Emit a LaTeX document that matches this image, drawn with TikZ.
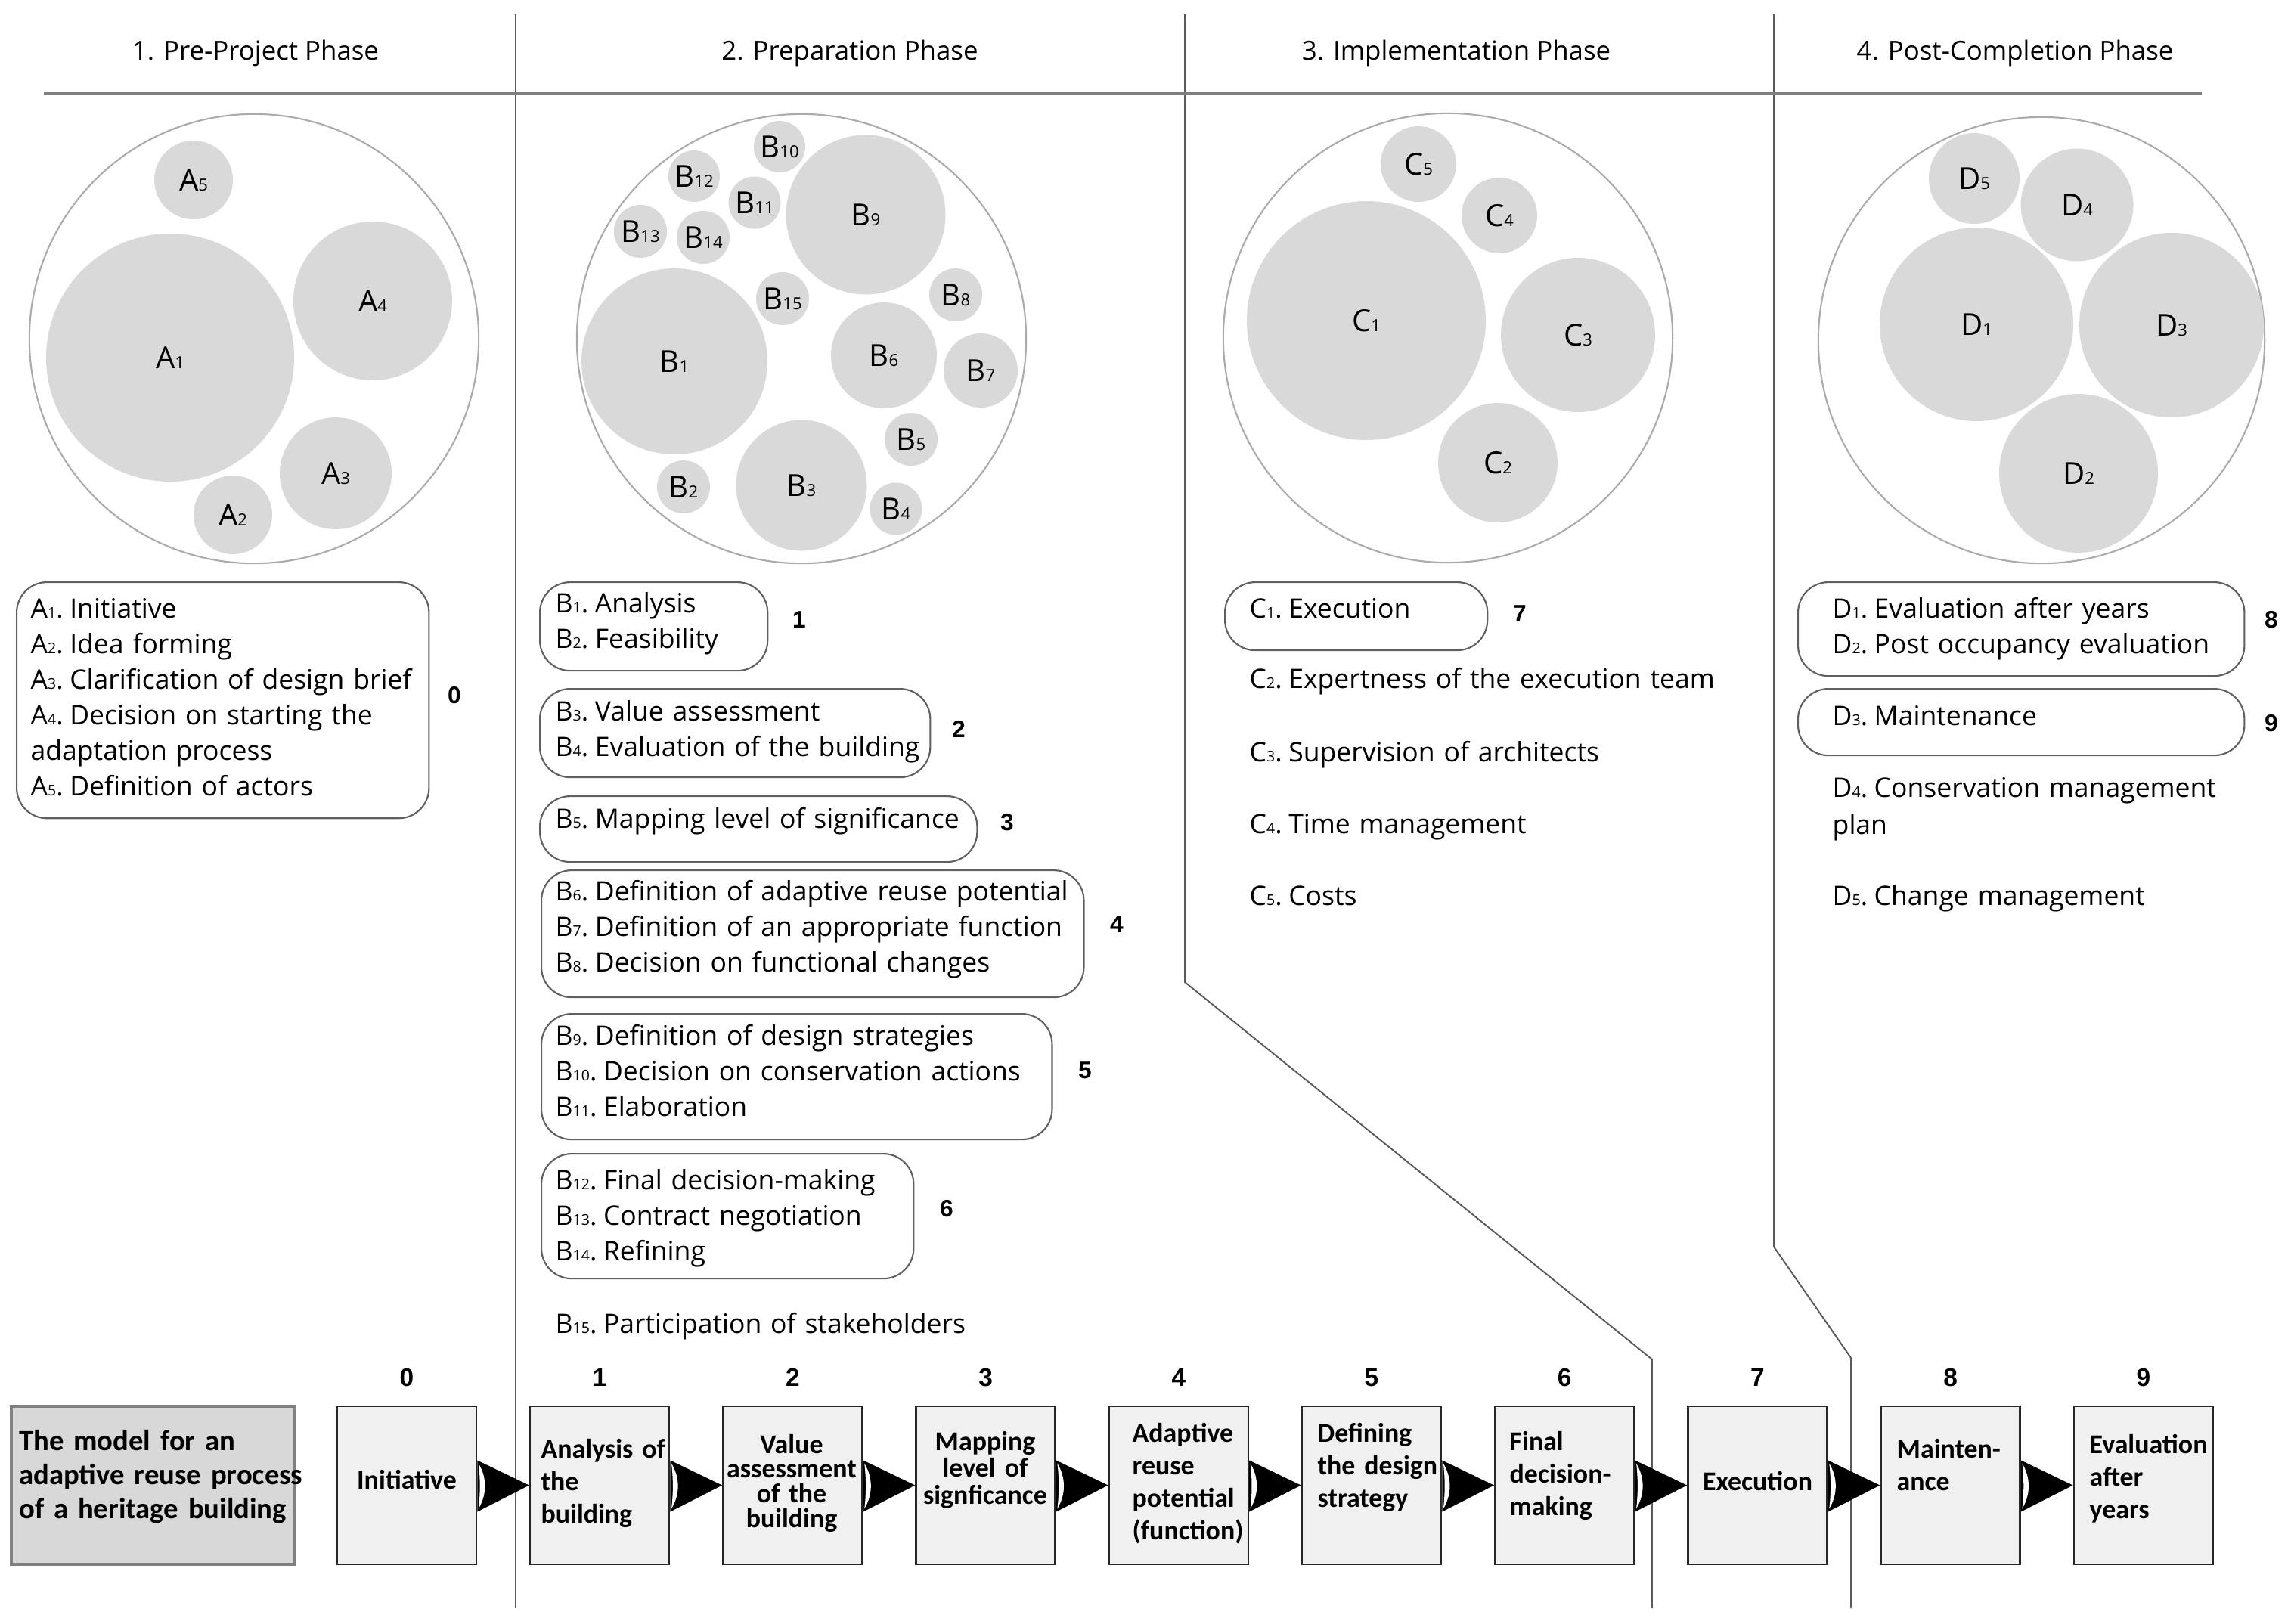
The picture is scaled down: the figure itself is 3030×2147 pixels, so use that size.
\documentclass[tikz,border=0pt]{standalone}
\usepackage{fontspec}
\setmainfont{Open Sans}
\newfontfamily\calfont{Carlito}
\newfontfamily\numfont{Liberation Sans}
\usetikzlibrary{calc}
\definecolor{cgray}{HTML}{D9D9D9}
\definecolor{boxgray}{HTML}{606060}
\definecolor{linegray}{HTML}{5A5A5A}
\definecolor{ringgray}{HTML}{ABABAB}
\definecolor{boxfill}{HTML}{F0F0F0}
\definecolor{darkfill}{HTML}{D8D8D8}
\definecolor{headgray}{HTML}{808080}
\newcommand\ix[1]{\scalebox{0.55}{#1}}
\newcommand\lb[2]{#1\ix{#2}.\hspace{0.24em}}
\tikzset{
  outerc/.style={circle, draw=ringgray, line width=0.6pt, inner sep=0pt},
  innerc/.style={circle, fill=cgray, inner sep=0pt, font=\fontsize{11.4}{13}\selectfont},
  listbox/.style={draw=boxgray, line width=0.6pt, rounded corners=0.4cm, anchor=north west, inner sep=0pt},
  listtxt/.style={anchor=base west, inner sep=0pt, text width=8cm, align=left, font=\fontsize{10.1}{13.4}\selectfont},
  listnum/.style={inner sep=0pt, font=\numfont\bfseries\fontsize{9}{10}\selectfont},
  stepbox/.style={draw=black!85, fill=boxfill, line width=0.7pt, minimum width=1.84cm, minimum height=2.09cm, inner sep=0pt},
  steptxt/.style={inner sep=0pt, text width=1.84cm, font=\calfont\bfseries\fontsize{10.2}{12.3}\selectfont},
  stepnum/.style={inner sep=0pt, font=\numfont\bfseries\fontsize{9.5}{10}\selectfont},
  phasetitle/.style={anchor=base, inner sep=0pt, font=\fontsize{9.9}{12}\selectfont},
  phaseline/.style={draw=linegray, line width=0.55pt},
  headline/.style={draw=headgray, line width=1.1pt},
}
\begin{document}
\begin{tikzpicture}[x=0.01cm,y=-0.01cm]
\useasboundingbox (0,0) rectangle (3030,2147);

% phase separators
\draw[phaseline] (682,19) -- (682,2127);
\draw[phaseline] (1567,19) -- (1567,1299) -- (2185,1798) -- (2185,2127);
\draw[phaseline] (2346,19) -- (2346,1649) -- (2448,1796) -- (2448,2127);
\draw[headline] (58,124) -- (2912,124);

% titles
\node[phasetitle] (h1) at (338,79) {1. Pre-Project Phase};
\node[phasetitle] (h2) at (1124,79) {2. Preparation Phase};
\node[phasetitle] (h3) at (1926,79) {3. Implementation Phase};
\node[phasetitle] (h4) at (2665,79) {4. Post-Completion Phase};

% outer circles
\node[outerc, minimum size=5.94cm] (OA) at (336,448) {};
\node[outerc, minimum size=5.94cm] (OB) at (1060,448) {};
\node[outerc, minimum size=5.94cm] (OC) at (1915,447) {};
\node[outerc, minimum size=5.90cm] (OD) at (2700,450) {};

% inner circles
\foreach \l/\k/\x/\y/\r in {
  A/5/256/238/52, A/1/225/473/164, A/4/493/398/105, A/3/444/626/74, A/2/308/681/52,
  B/10/1031/194/34, B/12/918/233/34, B/11/998/268/34.5, B/13/847/306/35, B/14/930/314/35,
  B/9/1145/284/105.5, B/15/1035/395/35, B/1/892/478/123, B/8/1264/390/35, B/6/1169/470/70,
  B/7/1297/490/49, B/5/1205/581/35, B/2/904/644/35, B/3/1060/642/86.5, B/4/1185/673/34.5,
  C/5/1876/217/50, C/4/1983/285/50, C/1/1807/424/158, C/3/2087/443/102, C/2/1981/612/79,
  D/5/2611/236/60, D/4/2747/271/74.5, D/1/2614/429/128, D/3/2872/430/122, D/2/2749/626/105}
  \node[innerc, minimum size=2*\r*0.01cm] (\l\k) at (\x,\y) {\l\ix{\k}};

% list boxes
\node[listbox, minimum width=5.45cm, minimum height=3.12cm] (bA) at (21,769) {};
\node[listtxt] (tA) at (40,817) {\lb{A}{1}Initiative\\\lb{A}{2}Idea forming\\\lb{A}{3}Clarification of design brief\\\lb{A}{4}Decision on starting the\\adaptation process\\\lb{A}{5}Definition of actors};
\node[listnum] (nA) at (601,920) {0};

\node[listbox, minimum width=3.01cm, minimum height=1.17cm] (bB1) at (713,769) {};
\node[listtxt] (tB1) at (734,810) {\lb{B}{1}Analysis\\\lb{B}{2}Feasibility};
\node[listnum] (nB1) at (1057,820) {1};

\node[listbox, minimum width=5.16cm, minimum height=1.17cm] (bB3) at (713,910) {};
\node[listtxt] (tB3) at (734,953) {\lb{B}{3}Value assessment\\\lb{B}{4}Evaluation of the building};
\node[listnum] (nB3) at (1268,964) {2};

\node[listbox, minimum width=5.78cm, minimum height=0.87cm] (bB5) at (713,1052) {};
\node[listtxt] (tB5) at (734,1095) {\lb{B}{5}Mapping level of significance};
\node[listnum] (nB5) at (1332,1088) {3};

\node[listbox, minimum width=7.17cm, minimum height=1.68cm] (bB6) at (715,1150) {};
\node[listtxt] (tB6) at (734,1191.5) {\lb{B}{6}Definition of adaptive reuse potential\\\lb{B}{7}Definition of an appropriate function\\\lb{B}{8}Decision on functional changes};
\node[listnum] (nB6) at (1477,1223) {4};

\node[listbox, minimum width=6.75cm, minimum height=1.66cm] (bB9) at (715,1340) {};
\node[listtxt] (tB9) at (734,1382) {\lb{B}{9}Definition of design strategies\\\lb{B}{10}Decision on conservation actions\\\lb{B}{11}Elaboration};
\node[listnum] (nB9) at (1435,1416) {5};

\node[listbox, minimum width=4.92cm, minimum height=1.65cm] (bB12) at (715,1525) {};
\node[listtxt] (tB12) at (734,1573) {\lb{B}{12}Final decision-making\\\lb{B}{13}Contract negotiation\\\lb{B}{14}Refining};
\node[listnum] (nB12) at (1252,1599) {6};

\node[listtxt] (tB15) at (734,1763) {\lb{B}{15}Participation of stakeholders};

\node[listbox, minimum width=3.47cm, minimum height=0.90cm] (bC1) at (1619,769) {};
\node[listtxt] (tC1) at (1652,817) {\lb{C}{1}Execution};
\node[listnum] (nC1) at (2010,812) {7};
\node[listtxt] (tC2) at (1652,910) {\lb{C}{2}Expertness of the execution team};
\node[listtxt] (tC3) at (1652,1007) {\lb{C}{3}Supervision of architects};
\node[listtxt] (tC4) at (1652,1102) {\lb{C}{4}Time management};
\node[listtxt] (tC5) at (1652,1197) {\lb{C}{5}Costs};

\node[listbox, minimum width=5.90cm, minimum height=1.24cm] (bD1) at (2377,769) {};
\node[listtxt] (tD1) at (2423,817) {\lb{D}{1}Evaluation after years\\\lb{D}{2}Post occupancy evaluation};
\node[listnum] (nD1) at (3004,820) {8};
\node[listbox, minimum width=5.90cm, minimum height=0.88cm] (bD3) at (2377,910) {};
\node[listtxt] (tD3) at (2423,959) {\lb{D}{3}Maintenance};
\node[listnum] (nD3) at (3004,957) {9};
\node[listtxt, font=\fontsize{10.1}{14}\selectfont] (tD4) at (2423,1054) {\lb{D}{4}Conservation management\\plan};
\node[listtxt] (tD5) at (2423,1197) {\lb{D}{5}Change management};

% bottom process row
\node[stepbox, fill=darkfill, draw=headgray, line width=1pt, minimum width=3.75cm] (g) at (202.5,1964.5) {};
\node[steptxt, text width=5cm, align=left, anchor=base west, font=\calfont\bfseries\fontsize{11}{12.9}\selectfont] (gt) at (24.5,1918) {The model for an\\adaptive reuse process\\of a heritage building};

\foreach \i in {0,...,9}{
  \node[stepbox] (s\i) at ({538+255.2*\i},1964.5) {};
  \node[stepnum] (n\i) at ({538+255.2*\i},1822) {\i};
}

\node[steptxt, align=center, anchor=base] (l0) at (538,1969) {Initiative};
\node[steptxt, align=left, anchor=base west] (l1) at (715,1928) {Analysis of\\the\\building};
\node[steptxt, align=center, anchor=base, font=\calfont\bfseries\fontsize{10.2}{9.3}\selectfont] (l2) at (1047,1922) {Value\\assessment\\of the\\building};
\node[steptxt, align=center, anchor=base, font=\calfont\bfseries\fontsize{10.2}{10.2}\selectfont] (l3) at (1303,1918) {Mapping\\level of\\signficance};
\node[steptxt, align=left, anchor=base west] (l4) at (1497,1907) {Adaptive\\reuse\\potential\\(function)};
\node[steptxt, align=left, anchor=base west] (l5) at (1742,1907) {Defining\\the design\\strategy};
\node[steptxt, align=left, anchor=base west] (l6) at (1996,1918) {Final\\decision-\\making};
\node[steptxt, align=center, anchor=base] (l7) at (2324.5,1971) {Execution};
\node[steptxt, align=left, anchor=base west] (l8) at (2508,1928) {Mainten-\\ance};
\node[steptxt, align=left, anchor=base west] (l9) at (2763,1922) {Evaluation\\after\\years};

% arrows between steps
\foreach \i/\j in {0/1,1/2,2/3,3/4,4/5,5/6,6/7,7/8,8/9}{
  \fill[black] ($(s\i.east)+(0,-33)$) -- (s\j.west) -- ($(s\i.east)+(0,35)$) -- cycle;
  \fill[white] ($(s\i.east)+(1.5,-29)$) .. controls ($(s\i.east)+(4,-10)$) and ($(s\i.east)+(4,12)$) .. ($(s\i.east)+(1.5,31)$) .. controls ($(s\i.east)+(13,12)$) and ($(s\i.east)+(13,-10)$) .. ($(s\i.east)+(1.5,-29)$) -- cycle;
}
\end{tikzpicture}
\end{document}
